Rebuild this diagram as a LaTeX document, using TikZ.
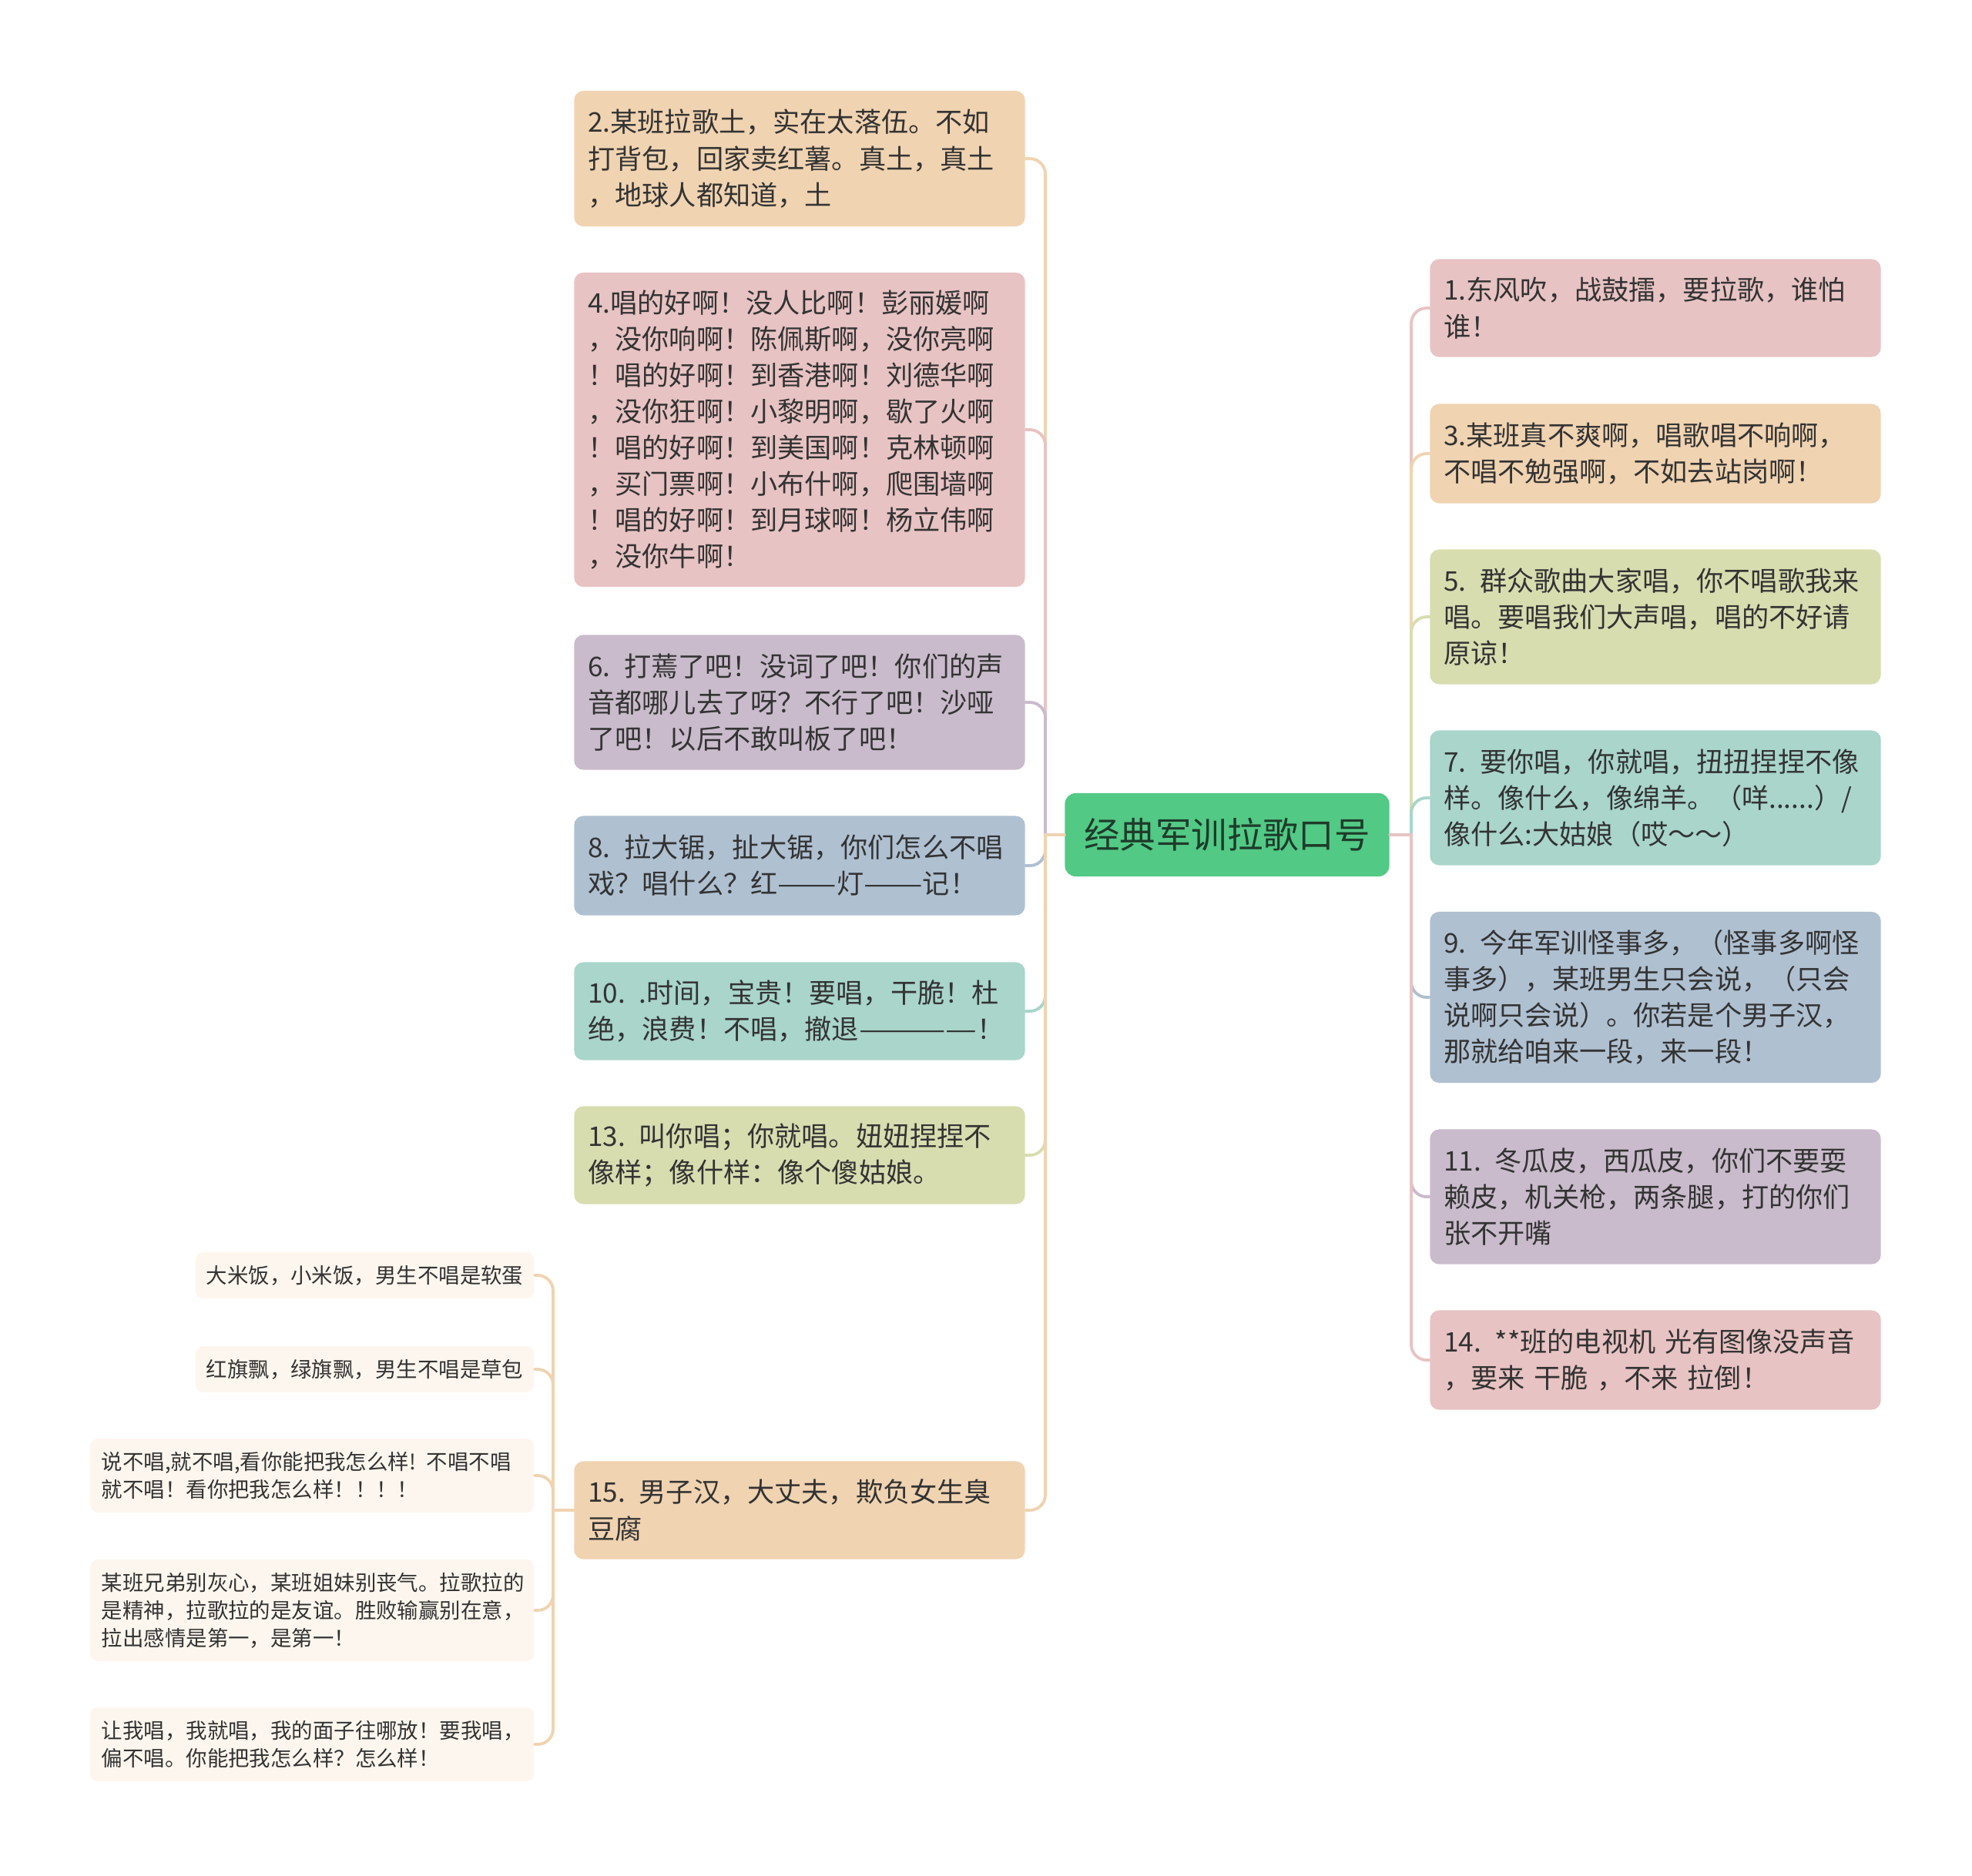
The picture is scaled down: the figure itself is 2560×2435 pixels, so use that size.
\documentclass[tikz,border=0pt]{standalone}
\usepackage{fontspec}
\XeTeXdashbreakstate=0
\newfontfamily\cjk{Noto Sans CJK SC}
\newfontfamily\cjkwide[FakeStretch=1.3]{Noto Sans CJK SC}
\newcommand\longdash[1]{{\cjkwide #1}}
\usepackage{tikz}
\usepackage{xcolor}
\definecolor{cpeach}{HTML}{F0D3B1}
\definecolor{cpink}{HTML}{E8C3C3}
\definecolor{cpurple}{HTML}{C9BBCB}
\definecolor{cblue}{HTML}{AFC0D1}
\definecolor{cteal}{HTML}{A9D5CB}
\definecolor{colive}{HTML}{D8DDB0}
\definecolor{cgreen}{HTML}{52C985}
\definecolor{csub}{HTML}{FDF6EE}
\definecolor{ctext}{HTML}{333333}
\definecolor{croottext}{HTML}{1E3B2A}
\tikzset{
    box/.style={rounded corners=0.12cm, align=left, text=ctext, font=\cjk\fontsize{10}{13.4}\selectfont,
        inner xsep=0.18cm, text width=5.49cm, minimum width=5.85cm},
    subbox/.style={rounded corners=0.1cm, fill=csub, align=left, text=ctext, font=\cjk\fontsize{7.8}{10.2}\selectfont,
        inner xsep=0.14cm, anchor=east, minimum height=0.6cm},
    rootbox/.style={rounded corners=0.14cm, fill=cgreen, text=croottext, font=\cjk\fontsize{13.2}{16}\selectfont,
        minimum width=4.21cm, minimum height=1.08cm},
    link/.style={line width=1.1pt, rounded corners=0.2cm},
}
\begin{document}
\begin{tikzpicture}[x=0.01cm,y=-0.01cm,line cap=round,line join=round]
    \useasboundingbox (0,0) rectangle (2560,2435);
    \node[rootbox] (root) at (1593,1084) {经典军训拉歌口号};
    \coordinate (lj) at (1357,1084);
    \coordinate (rj) at (1832,1084);
    \coordinate (sj) at (718,1961);

    \node[box, fill=cpeach, minimum height=1.76cm] (n2) at (1038,206) {2.某班拉歌土，实在太落伍。不如\\打背包，回家卖红薯。真土，真土\\，地球人都知道，土};
    \node[box, fill=cpink, minimum height=4.08cm] (n4) at (1038,558) {4.唱的好啊！没人比啊！彭丽媛啊\\，没你响啊！陈佩斯啊，没你亮啊\\！唱的好啊！到香港啊！刘德华啊\\，没你狂啊！小黎明啊，歇了火啊\\！唱的好啊！到美国啊！克林顿啊\\，买门票啊！小布什啊，爬围墙啊\\！唱的好啊！到月球啊！杨立伟啊\\，没你牛啊！};
    \node[box, fill=cpurple, minimum height=1.75cm] (n6) at (1038,912) {6. 打蔫了吧！没词了吧！你们的声\\音都哪儿去了呀？不行了吧！沙哑\\了吧！以后不敢叫板了吧！};
    \node[box, fill=cblue, minimum height=1.29cm] (n8) at (1038,1124) {8. 拉大锯，扯大锯，你们怎么不唱\\戏？唱什么？红\longdash{——}灯\longdash{——}记！};
    \node[box, fill=cteal, minimum height=1.27cm] (n10) at (1038,1313) {10. .时间，宝贵！要唱，干脆！杜\\\mbox{绝，浪费！不唱，撤退\longdash{————}！}};
    \node[box, fill=colive, minimum height=1.27cm] (n13) at (1038,1500) {13. 叫你唱；你就唱。妞妞捏捏不\\像样；像什样：像个傻姑娘。};
    \node[box, fill=cpeach, minimum height=1.27cm] (n15) at (1038,1961) {15. 男子汉，大丈夫，欺负女生臭\\豆腐};

    \node[box, fill=cpink, minimum height=1.27cm] (n1) at (2149,400) {1.东风吹，战鼓擂，要拉歌，谁怕\\谁！};
    \node[box, fill=cpeach, minimum height=1.29cm] (n3) at (2149,589) {3.某班真不爽啊，唱歌唱不响啊，\\不唱不勉强啊，不如去站岗啊！};
    \node[box, fill=colive, minimum height=1.75cm] (n5) at (2149,801) {5. 群众歌曲大家唱，你不唱歌我来\\唱。要唱我们大声唱，唱的不好请\\原谅！};
    \node[box, fill=cteal, minimum height=1.75cm] (n7) at (2149,1036) {7. 要你唱，你就唱，扭扭捏捏不像\\样。像什么，像绵羊。（咩......）/\\像什么:大姑娘（哎～～）};
    \node[box, fill=cblue, minimum height=2.22cm] (n9) at (2149,1295) {9. 今年军训怪事多，（怪事多啊怪\\事多），某班男生只会说，（只会\\说啊只会说）。你若是个男子汉，\\那就给咱来一段，来一段！};
    \node[box, fill=cpurple, minimum height=1.75cm] (n11) at (2149,1554) {11. 冬瓜皮，西瓜皮，你们不要耍\\赖皮，机关枪，两条腿，打的你们\\张不开嘴};
    \node[box, fill=cpink, minimum height=1.29cm] (n14) at (2149,1766) {14. **班的电视机 光有图像没声音\\，要来 干脆 ，不来 拉倒！};

    \node[subbox] (sa) at (694,1656) {大米饭，小米饭，男生不唱是软蛋};
    \node[subbox] (sb) at (694,1778) {红旗飘，绿旗飘，男生不唱是草包};
    \node[subbox, text width=5.46cm, inner xsep=0.15cm, minimum height=0.96cm] (sc) at (694,1916) {说不唱,就不唱,看你能把我怎么样! 不唱不唱\\就不唱！看你把我怎么样！！！！};
    \node[subbox, text width=5.46cm, inner xsep=0.15cm, minimum height=1.32cm] (sd) at (694,2091) {某班兄弟别灰心，某班姐妹别丧气。拉歌拉的\\是精神，拉歌拉的是友谊。胜败输赢别在意，\\拉出感情是第一，是第一！};
    \node[subbox, text width=5.46cm, inner xsep=0.15cm, minimum height=0.96cm] (se) at (694,2265) {让我唱，我就唱，我的面子往哪放！要我唱，\\偏不唱。你能把我怎么样？怎么样！};

    \draw[link, cpeach] (lj) |- (n2.east);
    \draw[link, cpink] (lj) |- (n4.east);
    \draw[link, cpurple] (lj) |- (n6.east);
    \draw[link, cblue] (lj) |- (n8.east);
    \draw[link, cteal] (lj) |- (n10.east);
    \draw[link, colive] (lj) |- (n13.east);
    \draw[link, cpeach] (lj) |- (n15.east);
    \draw[link, cpeach] (root.west) -- (lj);

    \draw[link, cpink] (rj) |- (n1.west);
    \draw[link, cpeach] (rj) |- (n3.west);
    \draw[link, colive] (rj) |- (n5.west);
    \draw[link, cteal] (rj) |- (n7.west);
    \draw[link, cblue] (rj) |- (n9.west);
    \draw[link, cpurple] (rj) |- (n11.west);
    \draw[link, cpink] (rj) |- (n14.west);
    \draw[link, cpink] (root.east) -- (rj);

    \draw[link, cpeach] (n15.west) -- (sj);
    \draw[link, cpeach] (sj) |- (sa.east);
    \draw[link, cpeach] (sj) |- (sb.east);
    \draw[link, cpeach] (sj) |- (sc.east);
    \draw[link, cpeach] (sj) |- (sd.east);
    \draw[link, cpeach] (sj) |- (se.east);
\end{tikzpicture}
\end{document}
